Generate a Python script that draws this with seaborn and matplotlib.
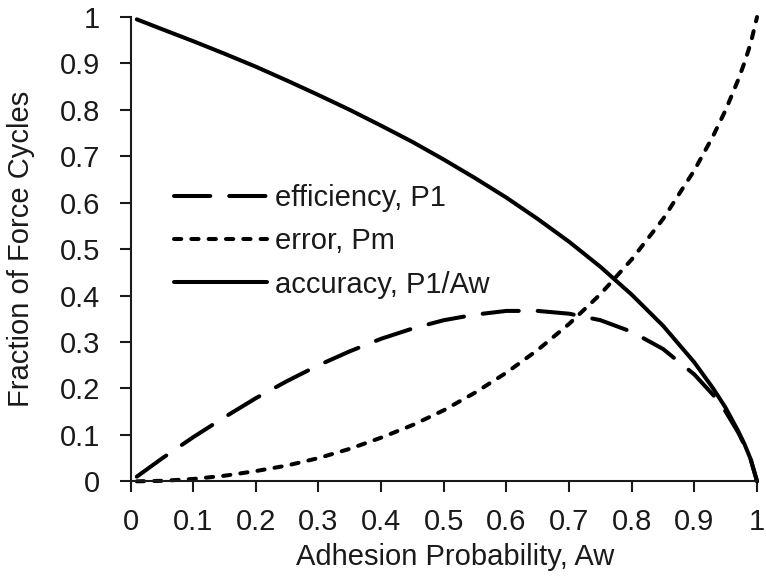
import pandas as pd
import numpy as np
import seaborn as sns
import matplotlib
matplotlib.use('Agg')
import matplotlib.pyplot as plt

# values
aw = [0.01, 0.05, 0.1, 0.15, 0.2, 0.25, 0.3, 0.35, 0.4, 0.45, 0.5, 0.55, 0.6,
      0.65, 0.7, 0.75, 0.8, 0.85, 0.9, 0.93, 0.95, 0.97, 0.98, 0.99, 1.0]
efficiency = [0.010, 0.049, 0.095, 0.138, 0.179, 0.216, 0.250, 0.280, 0.307,
              0.329, 0.347, 0.359, 0.367, 0.367, 0.361, 0.347, 0.322, 0.285,
              0.230, 0.186, 0.150, 0.105, 0.078, 0.046, 0.0]
error = [0.000, 0.001, 0.005, 0.012, 0.022, 0.034, 0.050, 0.070, 0.094, 0.121,
         0.153, 0.191, 0.234, 0.283, 0.339, 0.403, 0.478, 0.565, 0.670, 0.744,
         0.800, 0.865, 0.902, 0.944, 1.0]
accuracy = [0.995, 0.974, 0.948, 0.921, 0.893, 0.863, 0.832, 0.800, 0.766,
            0.731, 0.693, 0.653, 0.611, 0.565, 0.516, 0.462, 0.402, 0.335,
            0.256, 0.200, 0.158, 0.108, 0.080, 0.047, 0.0]

labels = ['efficiency, P1', 'error, Pm', 'accuracy, P1/Aw']
# dash patterns in units of line width
styles = [(0, (9, 4.7)), (0, (1.8, 2.5)), '-']

df = pd.DataFrame({'Aw': aw, labels[0]: efficiency, labels[1]: error,
                   labels[2]: accuracy})
df = df.melt(id_vars='Aw', var_name='curve', value_name='frac')

ink = '#1a1a1a'
sns.set_style('ticks')
plt.rcParams['font.family'] = ['Liberation Sans', 'DejaVu Sans']
plt.rcParams['text.color'] = ink
plt.rcParams['xtick.color'] = ink
plt.rcParams['ytick.color'] = ink
plt.rcParams['axes.labelcolor'] = ink

fs = 21

fig = plt.figure(figsize=(7.66, 5.81), dpi=100)
ax = fig.add_axes([0.1704, 0.1716, 0.8179, 0.7991])

for lab, ls in zip(labels, styles):
    d = df[df['curve'] == lab]
    sns.lineplot(data=d, x='Aw', y='frac', ax=ax, color='black', lw=2.9,
                 linestyle=ls, label=lab, solid_capstyle='round',
                 dash_capstyle='round')

ax.set_xlim(0, 1)
ax.set_ylim(0, 1)
ticks = np.round(np.arange(0, 1.01, 0.1), 1)
tick_labels = ['0'] + ['%.1f' % v for v in ticks[1:-1]] + ['1']
ax.set_xticks(ticks)
ax.set_yticks(ticks)
ax.set_xticklabels(tick_labels)
ax.set_yticklabels(tick_labels)
ax.tick_params(labelsize=fs, length=8, width=1.5, direction='out')
ax.tick_params(axis='x', pad=11)
ax.tick_params(axis='y', pad=14)
for s in ['left', 'bottom']:
    ax.spines[s].set_linewidth(1.5)
    ax.spines[s].set_color(ink)
sns.despine(ax=ax)
for ln in ax.lines:
    ln.set_clip_on(False)

ax.set_xlabel('Adhesion Probability, Aw', fontsize=fs, labelpad=5)
ax.set_ylabel('Fraction of Force Cycles', fontsize=fs, labelpad=18)
ax.xaxis.label.set_x(0.518)

leg = ax.legend(loc='upper left', bbox_to_anchor=(0.05, 0.666), frameon=False,
                handlelength=3.2, handletextpad=0.28, labelspacing=0.53,
                fontsize=fs, borderaxespad=0)

fig.savefig('out.png', dpi=100)
